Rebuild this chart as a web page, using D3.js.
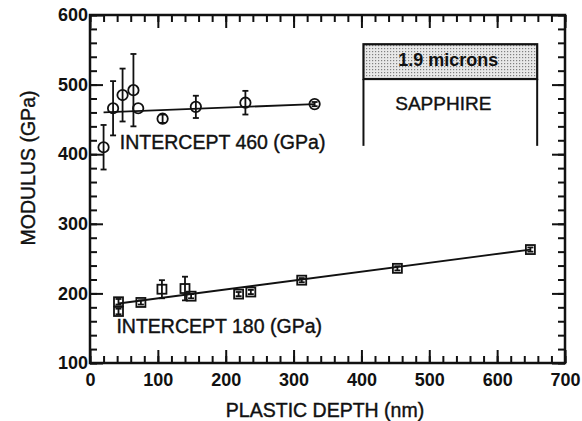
<!DOCTYPE html>
<html>
<head>
<meta charset="utf-8">
<script src="https://cdn.jsdelivr.net/npm/d3@7"></script>
<style>
  body { margin: 0; background: #fff; }
  svg { font-family: "Liberation Sans", Arial, Helvetica, sans-serif; }
  .note { fill: #111; stroke: #111; stroke-width: 0.4px; }
</style>
</head>
<body>
<svg width="582" height="421"></svg>
<script>
// circles: upper series (intercept 460)
var circDepth = [20, 34, 48, 64, 71, 107, 156, 229, 331];
var circMod   = [410, 466, 485, 492, 466, 451, 468, 474, 472];
var circErr   = [32, 39, 38, 52, 0, 6, 16, 17, 3];
var circFit   = [[20, 460], [331, 472]];

// squares: lower series (intercept 180)
var sqDepth = [42, 42, 75, 106, 140, 149, 219, 237, 312, 453, 649];
var sqMod   = [188, 174, 187, 206, 207, 196, 199, 202, 219, 236, 263];
var sqErr   = [4, 4, 3, 13, 17, 3, 3, 3, 3, 3, 3];
var sqFit   = [[42, 185.5], [649, 263]];

var xTicks = [0, 100, 200, 300, 400, 500, 600, 700];
var yTicks = [100, 200, 300, 400, 500, 600];

function createChart() {
    const svg = d3.select("svg");
    const xScale = d3.scaleLinear().domain([0, 700]).range([90, 565]);
    const yScale = d3.scaleLinear().domain([100, 600]).range([363, 15]);
    const xMinor = d3.range(0, 701, 20);
    const yMinor = d3.range(100, 601, 20);

    // stipple for the sapphire film
    const pat = svg.append("defs").append("pattern")
        .attr("id", "dots").attr("width", 3).attr("height", 3)
        .attr("patternUnits", "userSpaceOnUse");
    pat.append("rect").attr("width", 3).attr("height", 3).attr("fill", "#e8e8e8");
    pat.append("rect").attr("width", 1.2).attr("height", 1.2).attr("fill", "#808080");

    // axes on all four sides, ticks pointing inward
    function axisSet(axisFn, scale, vals, minor, tx, ty, labels) {
        const gMin = svg.append("g").attr("transform", `translate(${tx},${ty})`)
            .call(axisFn(scale).tickValues(minor).tickSize(-7).tickFormat(""));
        const gMaj = svg.append("g").attr("transform", `translate(${tx},${ty})`)
            .call(axisFn(scale).tickValues(vals).tickSize(-13).tickPadding(labels ? 2 : 0)
                  .tickFormat(labels ? d3.format("d") : ""));
        [gMin, gMaj].forEach(g => {
            g.select(".domain").remove();
            g.selectAll("line").attr("stroke", "#111").attr("stroke-width", 2);
        });
        gMaj.selectAll("text").attr("fill", "#111")
            .style("font-size", "18px").style("font-weight", "bold")
            .style("font-family", "'Liberation Sans', Arial, sans-serif");
        return gMaj;
    }
    const gx = axisSet(d3.axisBottom, xScale, xTicks, xMinor, 0, 363, true);
    gx.selectAll("text").attr("y", 10);
    axisSet(d3.axisTop, xScale, xTicks, xMinor, 0, 15, false);
    axisSet(d3.axisLeft, yScale, yTicks, yMinor, 90, 0, true);
    axisSet(d3.axisRight, yScale, yTicks, yMinor, 565, 0, false);

    svg.append("rect")
        .attr("x", 90).attr("y", 15).attr("width", 475).attr("height", 348)
        .attr("fill", "none").attr("stroke", "#111").attr("stroke-width", 2.5);

    // axis titles
    svg.append("text").attr("class", "note").attr("x", 325).attr("y", 417)
        .attr("text-anchor", "middle")
        .style("font-size", "19.5px").text("PLASTIC DEPTH (nm)");
    svg.append("text").attr("class", "note").attr("transform", "translate(35,168) rotate(-90)")
        .attr("text-anchor", "middle")
        .style("font-size", "19.5px").text("MODULUS (GPa)");

    // sapphire sketch
    const bx0 = xScale(403), bx1 = xScale(659);
    svg.append("rect").attr("x", bx0).attr("y", yScale(558))
        .attr("width", bx1 - bx0).attr("height", yScale(508) - yScale(558))
        .attr("fill", "url(#dots)").attr("stroke", "#111").attr("stroke-width", 2.2);
    svg.selectAll("line.wall").data([bx0, bx1]).enter().append("line")
        .attr("class", "wall")
        .attr("x1", d => d).attr("x2", d => d)
        .attr("y1", yScale(508)).attr("y2", yScale(412))
        .attr("stroke", "#111").attr("stroke-width", 2);
    svg.append("text").attr("x", (bx0 + bx1) / 2 - 2).attr("y", yScale(527))
        .attr("text-anchor", "middle").style("font-size", "18px").style("font-weight", "bold")
        .attr("fill", "#111").text("1.9 microns");
    svg.append("text").attr("class", "note").attr("x", (bx0 + bx1) / 2 - 7).attr("y", 110)
        .attr("text-anchor", "middle").style("font-size", "19px")
        .text("SAPPHIRE");

    // fit lines
    const line = d3.line().x(d => xScale(d[0])).y(d => yScale(d[1]));
    [circFit, sqFit].forEach(f => {
        svg.append("path").attr("d", line(f)).attr("fill", "none")
            .attr("stroke", "#111").attr("stroke-width", 1.8);
    });

    // error bars
    function errBars(cls, depth, mod, err) {
        const idx = depth.map((d, i) => i).filter(i => err[i] > 0);
        const g = svg.selectAll("g." + cls).data(idx).enter().append("g").attr("class", cls);
        g.append("line")
            .attr("x1", i => xScale(depth[i])).attr("x2", i => xScale(depth[i]))
            .attr("y1", i => yScale(mod[i] - err[i])).attr("y2", i => yScale(mod[i] + err[i]))
            .attr("stroke", "#111").attr("stroke-width", 1.8);
        [-1, 1].forEach(s => {
            g.append("line")
                .attr("x1", i => xScale(depth[i]) - 3).attr("x2", i => xScale(depth[i]) + 3)
                .attr("y1", i => yScale(mod[i] + s * err[i])).attr("y2", i => yScale(mod[i] + s * err[i]))
                .attr("stroke", "#111").attr("stroke-width", 1.8);
        });
    }
    errBars("ce", circDepth, circMod, circErr);
    errBars("se", sqDepth, sqMod, sqErr);

    svg.selectAll("circle.mod").data(circDepth).enter().append("circle")
        .attr("class", "mod")
        .attr("r", 5.2)
        .attr("cx", d => xScale(d))
        .attr("cy", (d, i) => yScale(circMod[i]))
        .attr("fill", "none").attr("stroke", "#111").attr("stroke-width", 1.8);

    svg.selectAll("rect.mod").data(sqDepth).enter().append("rect")
        .attr("class", "mod")
        .attr("width", 9).attr("height", 9)
        .attr("x", d => xScale(d) - 4.5)
        .attr("y", (d, i) => yScale(sqMod[i]) - 4.5)
        .attr("fill", "none").attr("stroke", "#111").attr("stroke-width", 1.8);

    // intercept notes
    svg.append("text").attr("class", "note").attr("x", xScale(44)).attr("y", yScale(407))
        .style("font-size", "19.5px").text("INTERCEPT 460 (GPa)");
    svg.append("text").attr("class", "note").attr("x", xScale(39)).attr("y", yScale(143))
        .style("font-size", "19.5px").text("INTERCEPT 180 (GPa)");
}
createChart();
</script>
</body>
</html>
